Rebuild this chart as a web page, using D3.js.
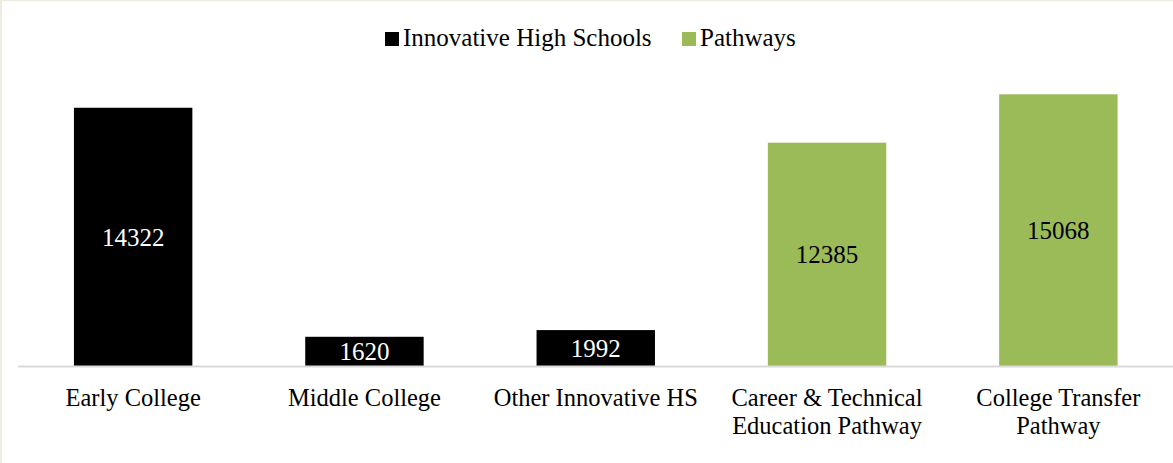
<!DOCTYPE html>
<html>
<head>
<meta charset="utf-8">
<script src="https://cdn.jsdelivr.net/npm/d3@7"></script>
<style>
  html, body { margin: 0; padding: 0; background: #fff; }
  svg { display: block; }
  text { font-family: "Liberation Serif", "Times New Roman", serif; }
</style>
</head>
<body>
<svg id="chart" width="1173" height="463"></svg>
<script>
const categories = [
  ["Early College"],
  ["Middle College"],
  ["Other Innovative HS"],
  ["Career & Technical", "Education Pathway"],
  ["College Transfer", "Pathway"]
];
const seriesNames = ["Innovative High Schools", "Pathways"];
const values = [14322, 1620, 1992, 12385, 15068];
const seriesOf = [0, 0, 0, 1, 1];
const colors = ["#000000", "#9bbb59"];
const labelColors = ["#ffffff", "#000000"];

const W = 1173, H = 463;
const svg = d3.select("#chart");

// frame
svg.append("rect").attr("x", 0).attr("y", 0).attr("width", W).attr("height", H).attr("fill", "#fff");
svg.append("line").attr("x1", 1).attr("x2", 1).attr("y1", 0).attr("y2", H).attr("stroke", "#eeebdf").attr("stroke-width", 2);
svg.append("line").attr("x1", 0).attr("x2", W).attr("y1", 0.5).attr("y2", 0.5).attr("stroke", "#eeebdf").attr("stroke-width", 1.5);

const idx = d3.range(values.length);
const x = d3.scaleBand().domain(idx).range([17.5, 1174]).paddingInner(0.488).paddingOuter(0.244);
const y = d3.scaleLinear().domain([0, 16000]).range([366, 77.5]);

// bars
svg.append("g").selectAll("rect").data(idx).join("rect")
  .attr("x", i => x(i))
  .attr("width", x.bandwidth())
  .attr("y", i => y(values[i]))
  .attr("height", i => y(0) - y(values[i]))
  .attr("fill", i => colors[seriesOf[i]]);

// baseline axis
const axis = d3.axisBottom(x).tickSize(0).tickFormat("");
const ag = svg.append("g").attr("transform", `translate(0,${y(0)})`).call(axis);
ag.select(".domain").attr("stroke", "#d9d9d9").attr("stroke-width", 2);

// value labels
svg.append("g").selectAll("text").data(idx).join("text")
  .attr("x", i => x(i) + x.bandwidth() / 2)
  .attr("y", i => (y(values[i]) + y(0)) / 2)
  .attr("dy", "0.36em")
  .attr("text-anchor", "middle")
  .attr("font-size", 25)
  .attr("fill", i => labelColors[seriesOf[i]])
  .text(i => values[i]);

// category labels
const cl = svg.append("g").selectAll("text").data(idx).join("text")
  .attr("x", i => x(i) + x.bandwidth() / 2)
  .attr("y", 406)
  .attr("text-anchor", "middle")
  .attr("font-size", 24.5)
  .attr("fill", "#000");
cl.selectAll("tspan").data(i => categories[i]).join("tspan")
  .attr("x", function() { return d3.select(this.parentNode).attr("x"); })
  .attr("dy", (d, j) => j === 0 ? 0 : 27.5)
  .text(d => d);

// legend
const legendX = [385, 682];
const lg = svg.append("g");
seriesNames.forEach((s, k) => {
  lg.append("rect").attr("x", legendX[k]).attr("y", 32).attr("width", 14).attr("height", 14).attr("fill", colors[k]);
  lg.append("text").attr("x", legendX[k] + 18).attr("y", 46).attr("font-size", 25).attr("fill", "#000").text(s);
});
</script>
</body>
</html>
